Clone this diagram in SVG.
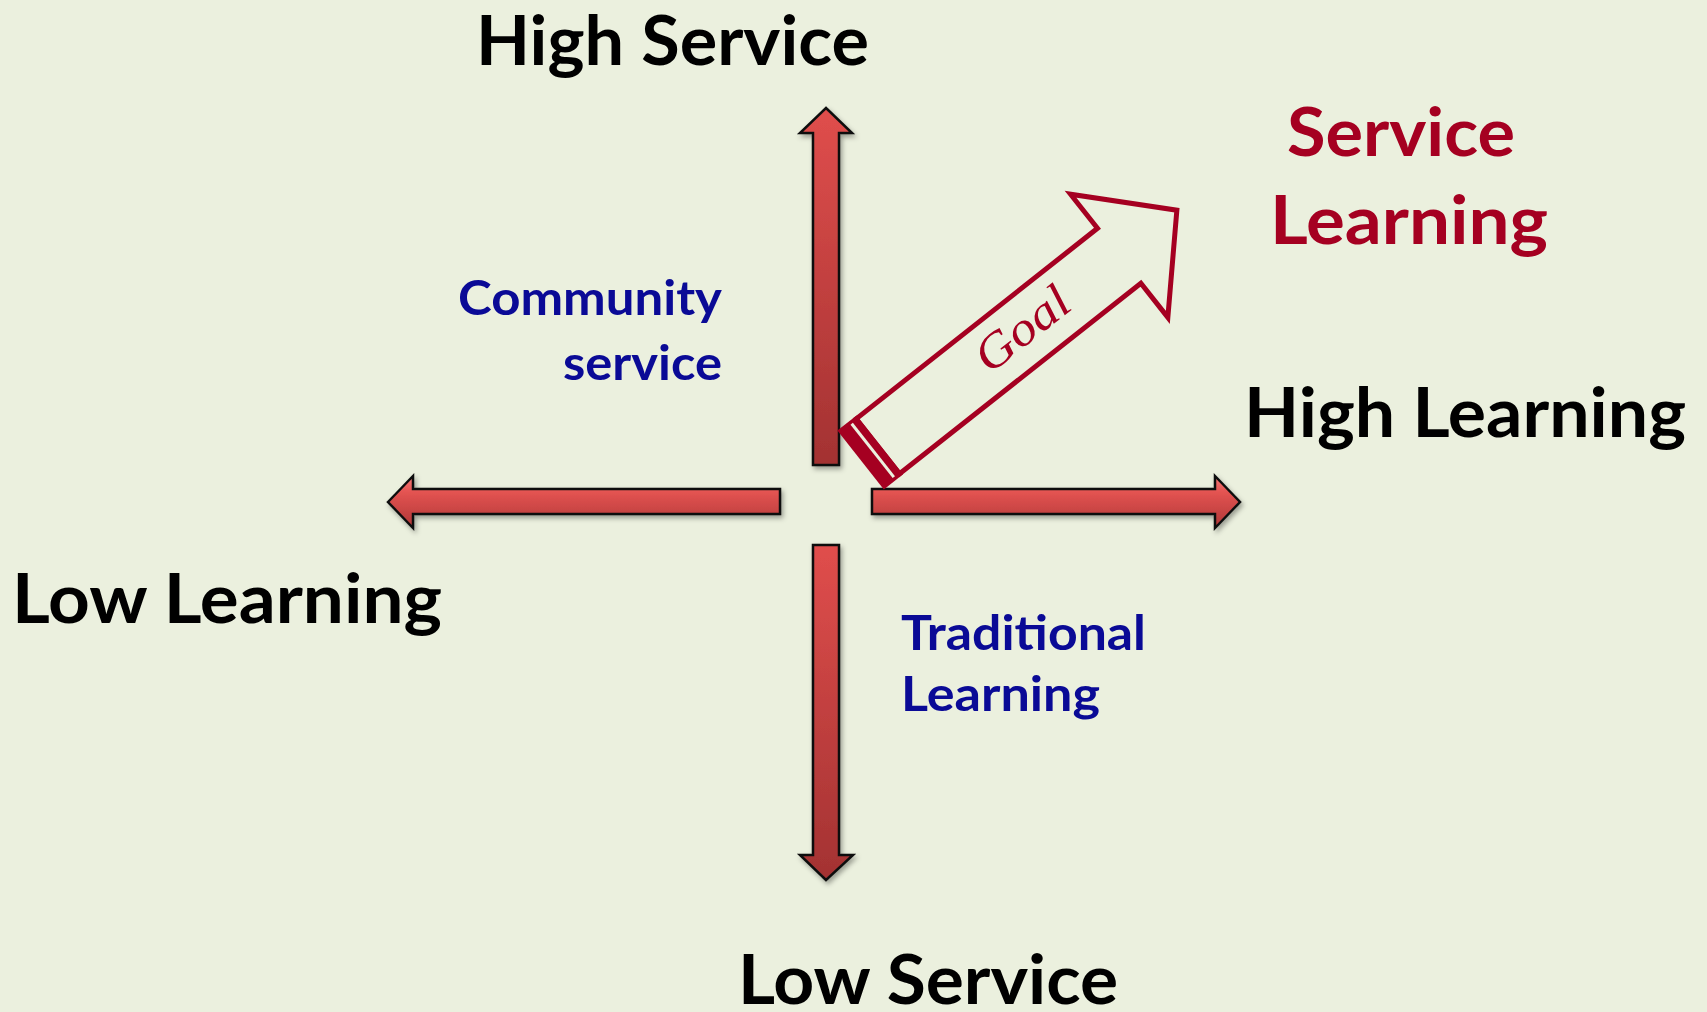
<svg xmlns="http://www.w3.org/2000/svg" width="1707" height="1012" viewBox="0 0 1707 1012">
<defs>
<linearGradient id="gv" x1="0" y1="0" x2="0" y2="1">
<stop offset="0" stop-color="#E04E4C"/>
<stop offset="1" stop-color="#A33232"/>
</linearGradient>
<linearGradient id="gh" x1="0" y1="0" x2="0" y2="1">
<stop offset="0" stop-color="#F77A78"/>
<stop offset="0.3" stop-color="#E45452"/>
<stop offset="1" stop-color="#B03636"/>
</linearGradient>
<filter id="sh" x="-20%" y="-20%" width="140%" height="140%">
<feDropShadow dx="2" dy="3" stdDeviation="2.5" flood-color="#000" flood-opacity="0.35"/>
</filter>
<style>
.ax{stroke:#111;stroke-width:2.5;stroke-linejoin:miter;filter:url(#sh)}
.big{font-family:Lato,"Open Sans",sans-serif;font-weight:700;font-size:69px;fill:#000}
.sl{font-family:Lato,"Open Sans",sans-serif;font-weight:700;font-size:67px;fill:#A50021}
.q{font-family:Lato,"Open Sans",sans-serif;font-weight:700;font-size:48px;fill:#0A0A96}
.goal{font-family:"Liberation Serif",serif;font-style:italic;font-size:48px;fill:#A50021}
</style>
</defs>
<rect width="1707" height="1012" fill="#EBF0DE"/>
<g id="connectors">
<polygon id="arrow-up" class="ax" fill="url(#gv)" points="826,108 852,133 839,133 839,465 813,465 813,133 800,133"/>
<polygon id="arrow-down" class="ax" fill="url(#gv)" points="813,545 839,545 839,855 853,855 826,880 800,855 813,855"/>
<polygon id="arrow-left" class="ax" fill="url(#gh)" points="388,502 413,476 413,489 780,489 780,514 413,514 413,528"/>
<polygon id="arrow-right" class="ax" fill="url(#gh)" points="872,489 1215,489 1215,476 1240,502 1215,528 1215,514 872,514"/>
<g id="goal-arrow" transform="translate(860.6,460) rotate(-38.3)">
<polygon points="22,-35 329.5,-35 329.5,-78.5 403,0 329.5,78.5 329.5,35 22,35" fill="none" stroke="#A50021" stroke-width="5" stroke-linejoin="miter"/>
<rect x="0" y="-37.5" width="24.5" height="75" fill="#A50021"/>
<rect x="14" y="-34" width="3" height="68" fill="#EBF0DE"/>
<text class="goal" x="208" y="13" text-anchor="middle" textLength="108" lengthAdjust="spacingAndGlyphs">Goal</text>
</g>
</g>
<g id="high-service"><text class="big" x="476" y="65" font-size="72" textLength="393" lengthAdjust="spacingAndGlyphs">High Service</text></g>
<g id="service-learning">
<text class="sl" x="1287" y="156" textLength="228" lengthAdjust="spacingAndGlyphs">Service</text>
<text class="sl" x="1270" y="244" textLength="278" lengthAdjust="spacingAndGlyphs">Learning</text>
</g>
<g id="community-service">
<text class="q" x="458" y="315" textLength="264" lengthAdjust="spacingAndGlyphs">Community</text>
<text class="q" x="563" y="380" textLength="159" lengthAdjust="spacingAndGlyphs">service</text>
</g>
<g id="high-learning"><text class="big" x="1244" y="437" textLength="442" lengthAdjust="spacingAndGlyphs">High Learning</text></g>
<g id="low-learning"><text class="big" x="12" y="623" textLength="430" lengthAdjust="spacingAndGlyphs">Low Learning</text></g>
<g id="traditional-learning">
<text class="q" x="901" y="650" textLength="245" lengthAdjust="spacingAndGlyphs">Traditional</text>
<text class="q" x="901" y="711" textLength="199" lengthAdjust="spacingAndGlyphs">Learning</text>
</g>
<g id="low-service"><text class="big" x="738" y="1004" textLength="380" lengthAdjust="spacingAndGlyphs">Low Service</text></g>
</svg>
